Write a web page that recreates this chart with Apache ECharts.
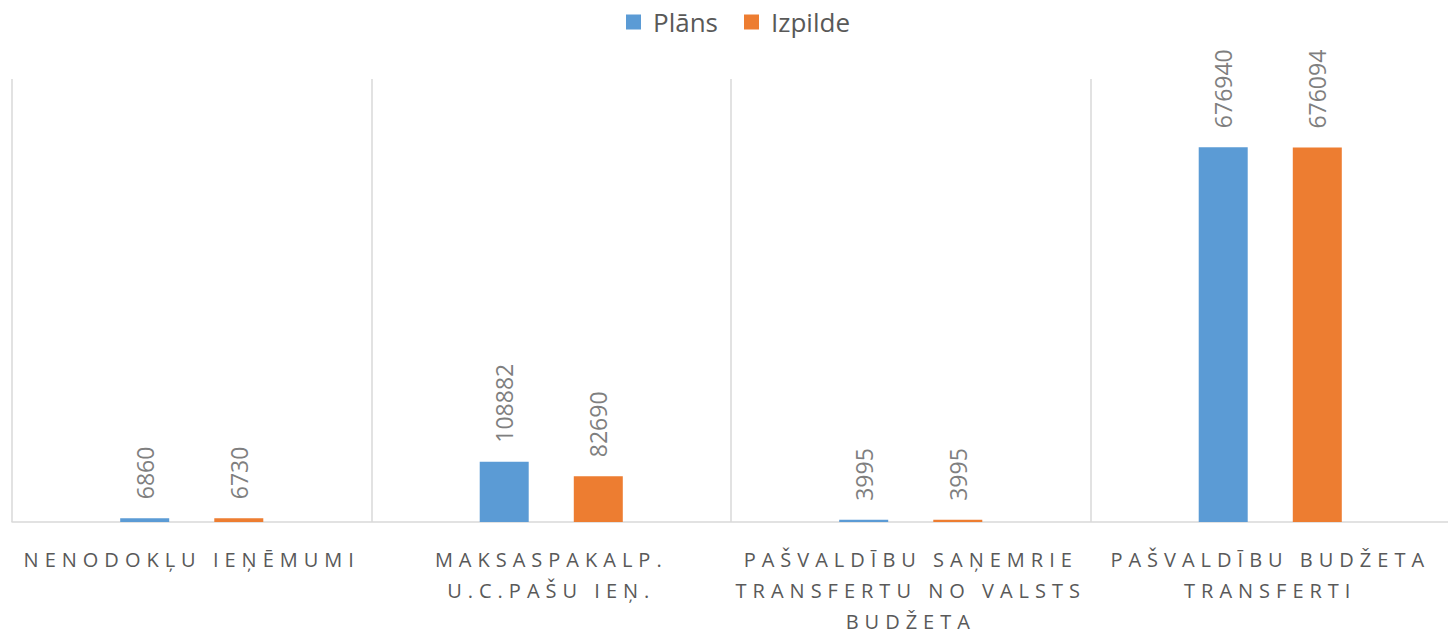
<!DOCTYPE html>
<html>
<head>
<meta charset="utf-8">
<script src="https://cdn.jsdelivr.net/npm/echarts@6/dist/echarts.min.js"></script>
<style>
  html, body { margin: 0; padding: 0; background: #fff; }
  #chart { width: 1448px; height: 641px; }
  /* spaced-out category labels like the original */
  #chart text[fill="#595959"] { letter-spacing: 6px; }
</style>
</head>
<body>
<div id="chart"></div>
<script>
const categories = [
  "NENODOKĻU IEŅĒMUMI",
  "MAKSASPAKALP. U.C.PAŠU IEŅ.",
  "PAŠVALDĪBU SAŅEMRIE TRANSFERTU NO VALSTS BUDŽETA",
  "PAŠVALDĪBU BUDŽETA TRANSFERTI"
];
const seriesNames = ["Plāns", "Izpilde"];
const plans = [6860, 108882, 3995, 676940];
const izpilde = [6730, 82690, 3995, 676094];

// greedy word wrap, ~20 chars per line
function wrap(text) {
  const lines = [];
  let cur = "";
  text.split(" ").forEach(function (w) {
    if (cur && (cur + " " + w).length > 20) {
      lines.push(cur);
      cur = w;
    } else {
      cur = cur ? cur + " " + w : w;
    }
  });
  lines.push(cur);
  return lines.join("\n");
}

const chart = echarts.init(document.getElementById("chart"), null, { renderer: "svg" });

const valueLabel = {
  show: true,
  position: "top",
  rotate: 90,
  align: "left",
  verticalAlign: "middle",
  distance: 19,
  color: "#7f7f7f",
  fontSize: 23,
  fontFamily: "Open Sans"
};

chart.setOption({
  animation: false,
  legend: {
    top: 4,
    left: 621,
    itemWidth: 15,
    itemHeight: 15,
    itemGap: 26,
    icon: "rect",
    textStyle: { fontSize: 26, color: "#595958", fontFamily: "Open Sans", padding: [0, 0, 0, 7] },
    data: seriesNames
  },
  grid: {
    left: 12,
    width: 1438,
    top: 79,
    bottom: 119,
    containLabel: false,
    outerBoundsMode: "none"
  },
  xAxis: {
    type: "category",
    data: categories,
    axisLine: { lineStyle: { color: "#d9d9d9", width: 1.5 } },
    axisTick: { show: false },
    splitLine: { show: true, lineStyle: { color: "#d9d9d9", width: 1.5 } },
    axisLabel: {
      color: "#595959",
      fontSize: 20,
      fontFamily: "Open Sans",
      lineHeight: 31,
      margin: 22,
      interval: 0,
      formatter: wrap
    }
  },
  yAxis: {
    type: "value",
    min: 0,
    max: 800000,
    show: false,
    splitLine: { show: false }
  },
  series: [
    {
      name: seriesNames[0],
      type: "bar",
      data: plans,
      barWidth: 49,
      barGap: "92%",
      itemStyle: { color: "#5b9bd5" },
      label: valueLabel
    },
    {
      name: seriesNames[1],
      type: "bar",
      data: izpilde,
      barWidth: 49,
      itemStyle: { color: "#ed7d31" },
      label: valueLabel
    }
  ]
});
</script>
</body>
</html>
